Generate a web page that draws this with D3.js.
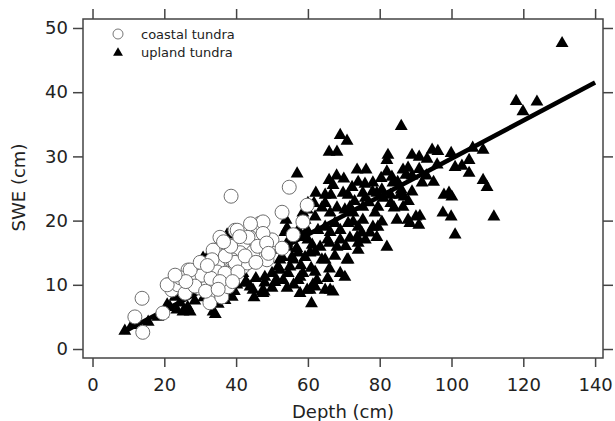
<!DOCTYPE html>
<html>
<head>
<meta charset="utf-8">
<script src="https://cdn.jsdelivr.net/npm/d3@7"></script>
<style>
  body { margin: 0; background: #fff; }
  svg text { font-family: "DejaVu Sans", sans-serif; fill: #222; }
</style>
</head>
<body>
<div id="chart"></div>
<script>
// Snow depth vs SWE, coastal vs upland tundra

const xTicks = [0, 20, 40, 60, 80, 100, 120, 140];
const yTicks = [0, 10, 20, 30, 40, 50];
const seriesNames = ["coastal tundra", "upland tundra"];

// [depth cm, SWE cm]
const coastal = [
  [13.8, 7.9], [11.8, 5], [14, 2.6], [19.6, 5.6], [21, 10], [22.1, 9.2], [23.8, 10], [25.8, 8.7],
  [26.6, 12.3], [29.1, 10.7], [29.9, 9.5], [31.3, 12.3], [32.2, 10], [32.7, 7.2], [34.1, 11.8],
  [34.9, 13.4], [36, 8.4], [36.9, 10.3], [34.1, 15.4], [35.5, 17.4], [38.6, 23.8], [38.3, 13.9],
  [27.7, 11.1], [24.4, 11.1], [54.8, 25.2], [52.8, 21.3], [46.7, 19.6], [47.5, 19.8], [59.8, 22.4],
  [58.6, 19.8], [39.7, 18.5], [43.9, 17.4], [46.7, 17.2], [50, 17], [41.9, 16.2], [44.7, 15.1],
  [41.1, 15], [38.9, 13.9], [33.6, 15.4], [33.3, 13.9], [41.9, 12.8], [48.6, 13.9], [34.7, 12],
  [30.5, 11.5], [27.2, 12.3], [20.8, 10], [37.8, 11.1], [36, 8.1], [52.8, 15.7], [55.9, 17.8],
  [43.3, 17.4], [40.3, 18.5], [43.1, 13.4], [39.7, 13.5], [37.8, 9.7], [36.9, 11.8],
  [28.5, 9.8], [30, 13.5], [31.5, 9], [33, 11], [35.5, 10.5], [37, 14.5], [38.5, 16], [40.5, 12],
  [42.5, 14.5], [45.5, 13.5], [46, 16], [47.5, 18], [44, 19.5], [48.5, 16.5], [36.5, 16.7],
  [32, 13], [26, 10.5], [23, 11.5], [39, 10.5], [35, 9.3], [41, 17.5], [49, 14.9]
];

const upland = [
  [9, 2.8], [11, 3.7], [15.5, 4.2], [18.2, 5], [19.6, 5.5], [21.6, 6.5], [23.5, 6.1], [25.2, 5.8],
  [27.2, 5.8], [33.6, 5.8], [34.2, 5.4], [20.8, 6.9], [24.4, 7.2], [23, 8.1], [26.5, 6.5],
  [30.8, 14.2], [31.9, 14.2], [37.5, 17.8], [28.5, 7.5], [31, 8], [35, 7], [39.5, 9],
  [36.9, 7.6], [38.9, 8.1], [40.2, 10], [42.5, 10.3], [43, 10.3], [44.7, 9.2], [47.8, 8.9],
  [47.2, 8.9], [48, 11.2], [48, 10.3], [50, 11.8], [50.8, 10.4], [51.3, 10.7], [51.7, 12.8],
  [52.2, 12.3], [52.2, 13.9], [53.1, 10.7], [54.2, 9.5], [54.5, 11.8], [55, 12.8], [55.9, 13.9],
  [57.3, 10.7], [57.8, 11.2], [57.8, 8.7], [58.6, 11.8], [59.8, 9.2], [60.6, 9.2], [61, 7.1],
  [60.9, 12.6], [61.4, 10], [62, 9.7], [62.5, 10.7], [63.9, 13.9], [64.8, 9.2], [64.8, 13.9],
  [66.2, 9.2], [67, 8.9], [69, 11.8], [70.3, 11.2], [70.9, 13.9], [71.2, 13.9], [52.8, 14.3],
  [55.6, 14.3], [59.2, 14.3], [41.9, 11.8], [43.9, 9.7], [47.5, 8.7], [45.5, 11], [50, 9.5],
  [56, 10], [66, 12.5], [67.5, 14.5], [58, 13], [62, 12], [65.5, 11], [45, 8],
  [53.6, 18.2], [54.2, 16.5], [54.5, 15.9], [56.9, 15.7], [57.3, 15], [58.6, 17.4], [60, 17],
  [59.8, 18.5], [61.2, 16.2], [62, 15.1], [60.6, 15], [63.4, 15.9], [62.8, 18.5], [64.8, 19],
  [66.2, 18.2], [67.5, 19.6], [68.1, 15.9], [69, 17], [69, 18.5], [71.7, 17.3], [73.7, 17.4],
  [74, 16.5], [74, 15.4], [75, 18.1], [77.3, 18.1], [79.2, 17.4], [82, 15.9], [53.9, 20.1],
  [54.2, 18.8], [57.3, 18.5], [58.6, 21.2], [59.2, 20.1], [59.8, 21.7], [60, 22.7], [61.7, 22.7],
  [62, 20.6], [63.9, 22], [64.8, 22.7], [66.2, 21.2], [68.1, 22], [70.3, 21.7], [71.2, 19.6],
  [71.7, 22.1], [72.6, 19.8], [72.6, 21.2], [74, 19], [75.3, 20.1], [75.3, 22.1], [78.1, 19],
  [78.7, 21.2], [79.5, 19], [79.5, 22.1], [80.6, 19.8], [83.1, 22.7], [84.8, 20.1], [86.5, 22.1],
  [87.9, 20.1], [88.4, 19.6], [90.1, 20.6], [90.9, 19.3], [91.2, 20.7], [97.6, 21.2], [99.9, 20.6],
  [101, 17.8], [111.8, 20.6], [65.5, 17], [70.5, 16], [76, 17], [66, 16.5],
  [57, 27.3], [62.2, 24.3], [64.8, 24], [66.4, 24], [65.9, 26.3], [69.8, 24.3], [71.2, 24],
  [72.3, 25.2], [75.3, 24.3], [75.9, 25.7], [78.1, 25.9], [79.2, 24.3], [80.4, 26.6], [80.6, 24.8],
  [82, 27.6], [83.4, 26.8], [83.7, 25.9], [85.6, 24], [86, 24.8], [86.8, 23.7], [86.5, 27.9],
  [87.3, 27.1], [87.9, 28.2], [91.8, 25.9], [97.9, 24], [99.3, 24.3], [100.1, 23.7],
  [73.7, 27.9], [76.2, 27.9], [65.9, 30.7], [68.1, 30.7], [69, 33.3], [70.9, 32.4], [82.3, 30.2],
  [82, 29.4], [86, 34.7], [89, 30.2], [91, 29.9], [93.2, 29.6], [94.6, 31], [96.2, 30.8],
  [99.9, 30.5], [101, 28.3], [102.9, 28.5], [104.9, 29.4], [104.9, 27.4], [96, 28.7], [105.9, 31.3],
  [108.8, 31], [108.8, 26.3], [109.9, 25.2], [118, 38.6], [123.8, 38.5], [119.9, 37], [130.8, 47.6],
  [73, 23], [76, 23.5], [77, 22.8], [81, 23.5], [83, 24], [84, 22], [78, 24.5], [74, 26], [70, 26.5],
  [67, 25.5], [68, 27], [88, 23], [89, 24.5], [85, 26], [93, 27], [95, 26], [91, 28], [89, 27]
];

// fitted line end points
const fitLine = [[8.5, 2.6], [140, 41.5]];

const width = 615, height = 421;
const margin = { top: 19, right: 12, bottom: 63, left: 83 };
const w = width - margin.left - margin.right;
const h = height - margin.top - margin.bottom;

const svg = d3.select("#chart").append("svg")
  .attr("width", width)
  .attr("height", height);

const g = svg.append("g")
  .attr("transform", `translate(${margin.left},${margin.top})`);

const x = d3.scaleLinear().domain([-2.65, 142.2]).range([0, w]);
const y = d3.scaleLinear().domain([-1.4, 51.4]).range([h, 0]);

const axisColor = "#444";

function styleAxis(sel) {
  sel.select(".domain").remove();
  sel.selectAll(".tick line").attr("stroke", axisColor).attr("stroke-width", 1.5);
  sel.selectAll(".tick text").attr("font-size", 18).attr("fill", "#222");
}

g.append("g")
  .attr("transform", `translate(0,${h})`)
  .call(d3.axisBottom(x).tickValues(xTicks).tickSize(9).tickPadding(11))
  .call(styleAxis);

g.append("g")
  .call(d3.axisTop(x).tickValues(xTicks).tickSize(10).tickFormat(""))
  .call(styleAxis);

g.append("g")
  .call(d3.axisLeft(y).tickValues(yTicks).tickSize(10).tickPadding(5))
  .call(styleAxis);

g.append("g")
  .attr("transform", `translate(${w},0)`)
  .call(d3.axisRight(y).tickValues(yTicks).tickSize(10).tickFormat(""))
  .call(styleAxis);

// frame
g.append("rect")
  .attr("width", w).attr("height", h)
  .attr("fill", "none")
  .attr("stroke", axisColor)
  .attr("stroke-width", 1.5);

const plot = g.append("g");
const tri = d3.symbol().type(d3.symbolTriangle).size(72);

plot.selectAll("path.upland")
  .data(upland)
  .join("path")
  .attr("class", "upland")
  .attr("d", tri)
  .attr("transform", d => `translate(${x(d[0])},${y(d[1])})`)
  .attr("fill", "#000");

plot.append("path")
  .datum(fitLine)
  .attr("d", d3.line().x(d => x(d[0])).y(d => y(d[1])))
  .attr("fill", "none")
  .attr("stroke", "#000")
  .attr("stroke-width", 4.5);

plot.selectAll("circle.coastal")
  .data(coastal)
  .join("circle")
  .attr("class", "coastal")
  .attr("cx", d => x(d[0]))
  .attr("cy", d => y(d[1]))
  .attr("r", 7)
  .attr("fill", "#fff")
  .attr("stroke", "#6e6e6e")
  .attr("stroke-width", 1);

// Legend
const lg = g.append("g").attr("transform", "translate(35, 15)");
lg.append("circle").attr("cx", 0).attr("cy", 0).attr("r", 5)
  .attr("fill", "#fff").attr("stroke", "#777").attr("stroke-width", 1);
lg.append("text").attr("x", 23).attr("y", 4.5).attr("font-size", 13).text(seriesNames[0]);
lg.append("path").attr("d", d3.symbol().type(d3.symbolTriangle).size(42))
  .attr("transform", "translate(0,19)").attr("fill", "#000");
lg.append("text").attr("x", 23).attr("y", 23).attr("font-size", 13).text(seriesNames[1]);

// Axis titles
svg.append("text")
  .attr("x", margin.left + w / 2)
  .attr("y", 418)
  .attr("text-anchor", "middle")
  .attr("font-size", 18)
  .text("Depth (cm)");

svg.append("text")
  .attr("transform", `translate(25,187.5) rotate(-90)`)
  .attr("text-anchor", "middle")
  .attr("font-size", 18)
  .text("SWE (cm)");
</script>
</body>
</html>
